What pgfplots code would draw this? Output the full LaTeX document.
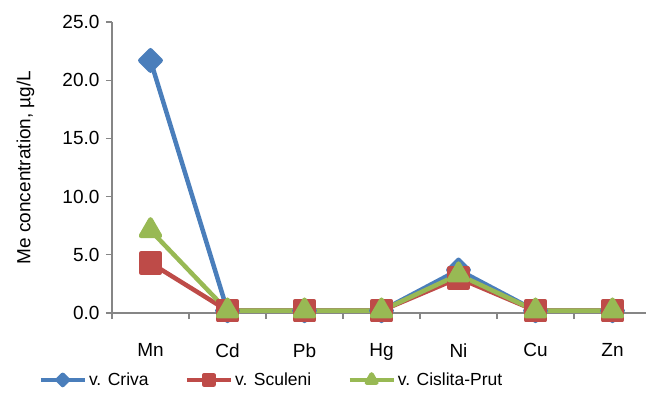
\documentclass[border=0pt]{standalone}
\usepackage{fontspec}
\setmainfont{Liberation Sans}
\usepackage{pgfplots}
\pgfplotsset{compat=1.18}

\definecolor{criva}{HTML}{4A7EBB}
\definecolor{sculeni}{HTML}{BE4B48}
\definecolor{cislita}{HTML}{98B954}
\definecolor{axisgray}{HTML}{868686}

\begin{document}
\begin{tikzpicture}[x=1pt,y=1pt]
\begin{axis}[
  at={(112pt,-313pt)}, anchor=south west,
  scale only axis, width=534pt, height=291pt,
  xmin=-0.5, xmax=6.435, ymin=0, ymax=25,
  axis x line=bottom, axis y line=left,
  axis line style={axisgray, line width=1.2pt, -},
  xtick={0,1,2,3,4,5,6},
  xticklabels={Mn,Cd,Pb,Hg,Ni,Cu,Zn},
  major x tick style={draw=none},
  minor xtick={-0.5,0.5,1.5,2.5,3.5,4.5,5.5},
  minor x tick style={axisgray, line width=1.2pt},
  minor tick length=6pt,
  xticklabel style={yshift=-21pt},
  ytick={0,5,10,15,20,25},
  y tick style={axisgray, line width=1.2pt},
  major tick length=6pt,
  tick align=outside,
  yticklabel style={xshift=-3pt},
  yticklabel={\pgfmathprintnumber[fixed,fixed zerofill,precision=1]{\tick}},
  /pgf/number format/assume math mode=true,
  tick label style={font=\fontsize{19}{23}\selectfont, text=black},
  ylabel={Me concentration, µg/L},
  ylabel style={font=\fontsize{19}{23}\selectfont, at={(rel axis cs:-0.162,0.5)}, anchor=center, rotate=0},
  clip=false,
  legend style={at={(rel axis cs:-0.138,-0.23)}, anchor=west, draw=none, fill=none,
    legend columns=3, font=\fontsize{17.5}{21}\selectfont,
    /tikz/every even column/.append style={column sep=34pt},
    nodes={inner xsep=2pt},
    inner sep=0pt},
  legend cell align=left,
  legend image code/.code={
    \draw[#1, mark repeat=2, mark phase=2, /tikz/every mark/.append style={scale=0.5}]
      plot coordinates {(0pt,0pt) (22pt,0pt) (44pt,0pt)};
  },
  every axis plot/.append style={line width=4.5pt, line join=round},
]
\addplot[criva, mark=square*, mark size=7.2pt, mark options={draw=none, fill=criva, rotate=45}]
  coordinates {(0,21.7) (1,0.2) (2,0.2) (3,0.2) (4,3.7) (5,0.2) (6,0.2)};
\addlegendentry{v. Criva}
\addplot[sculeni, mark=square*, mark size=9.5pt, mark options={draw=none, fill=sculeni}]
  coordinates {(0,4.3) (1,0.2) (2,0.2) (3,0.2) (4,3.0) (5,0.2) (6,0.2)};
\addlegendentry{v. Sculeni}
\addplot[cislita, mark=triangle*, mark size=11pt, mark options={draw=none, fill=cislita}]
  coordinates {(0,7.1) (1,0.2) (2,0.2) (3,0.2) (4,3.3) (5,0.2) (6,0.2)};
\addlegendentry{v. Cislita-Prut}
\end{axis}
\pgfresetboundingbox
\path[use as bounding box] (0pt,0pt) rectangle (646pt,-392pt);
\end{tikzpicture}
\end{document}
